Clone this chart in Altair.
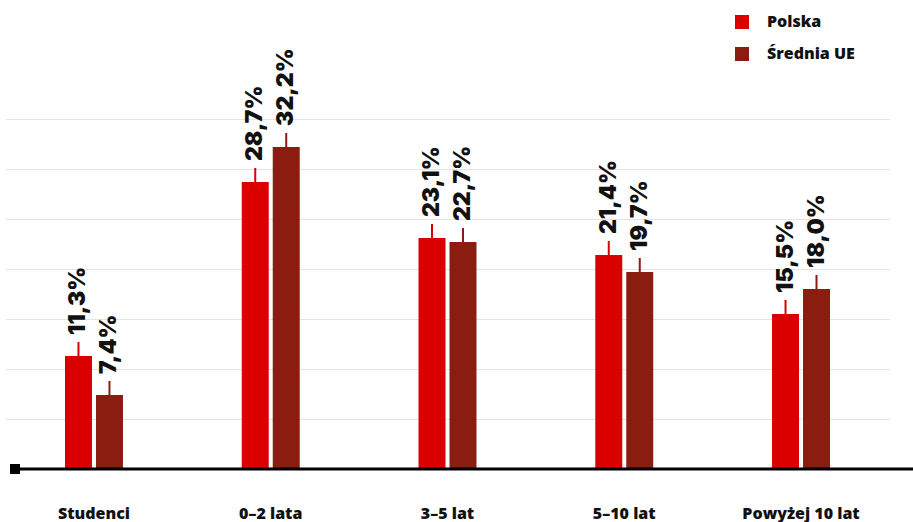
import altair as alt
import pandas as pd

# Share of respondents by seniority group
categories = ["Studenci", "0–2 lata", "3–5 lat", "5–10 lat", "Powyżej 10 lat"]
series_names = ["Polska", "Średnia UE"]
polska = [11.3, 28.7, 23.1, 21.4, 15.5]
srednia_ue = [7.4, 32.2, 22.7, 19.7, 18.0]
grid_values = [5, 10, 15, 20, 25, 30, 35]
colors = ["#DB0000", "#8A1C10"]

rows = []
for cat, p, u in zip(categories, polska, srednia_ue):
    rows.append({"kategoria": cat, "seria": series_names[0], "wartosc": p})
    rows.append({"kategoria": cat, "seria": series_names[1], "wartosc": u})
df = pd.DataFrame(rows)

x_enc = alt.X(
    "kategoria:N",
    sort=categories,
    scale=alt.Scale(domain=categories, range=[-4.4, 879.4], paddingInner=0.672, paddingOuter=0.336),
    axis=alt.Axis(
        title=None, domain=False, ticks=False, labelAngle=0,
        labelFont="Open Sans", labelFontWeight=800, labelFontSize=16,
        labelColor="#111111", labelPadding=49, labelBaseline="alphabetic",
    ),
)
x_off = alt.XOffset(
    "seria:N",
    scale=alt.Scale(domain=series_names, paddingInner=0.129, paddingOuter=0),
)
y_scale = alt.Scale(domain=[0, 46.9], nice=False, zero=True)
color_enc = alt.Color(
    "seria:N",
    scale=alt.Scale(domain=series_names, range=colors),
    legend=alt.Legend(
        title=None, orient="none", legendX=724, legendY=14,
        symbolType="square", symbolSize=196, symbolStrokeWidth=0, symbolOpacity=1,
        labelFont="Open Sans", labelFontWeight=800, labelFontSize=16,
        labelColor="#111111", labelOffset=17, rowPadding=16, padding=0,
    ),
)

base = alt.Chart(df)

bars = base.mark_bar(stroke=None).encode(
    x=x_enc,
    xOffset=x_off,
    y=alt.Y(
        "wartosc:Q", scale=y_scale,
        axis=alt.Axis(
            title=None, values=grid_values, labels=False, ticks=False, domain=False,
            grid=True, gridColor="#E4E4E4", gridWidth=1,
        ),
    ),
    color=color_enc,
)

whiskers = base.transform_calculate(
    top="datum.wartosc + 1.4"
).mark_rule(strokeWidth=2).encode(
    x=alt.X("kategoria:N", sort=categories),
    xOffset=x_off,
    y=alt.Y("wartosc:Q"),
    y2="top:Q",
    color=alt.Color("seria:N", legend=None),
)

labels = base.transform_calculate(
    label_y="datum.wartosc + 2.1",
    txt="replace(format(datum.wartosc, '.1f'), '.', ',') + '%'",
).mark_text(
    angle=270, align="left", baseline="middle",
    font="Inter", fontWeight=900, fontSize=23, color="#111111",
).encode(
    x=alt.X("kategoria:N", sort=categories),
    xOffset=x_off,
    y=alt.Y("label_y:Q"),
    text="txt:N",
)

baseline = alt.Chart(pd.DataFrame({"v": [0]})).mark_rule(
    color="#000000", strokeWidth=3
).encode(y=alt.Y("v:Q"))

marker = alt.Chart(pd.DataFrame({"v": [0]})).mark_square(
    size=100, color="#000000", opacity=1
).encode(x=alt.value(5), y=alt.Y("v:Q"))

chart = alt.layer(bars, whiskers, labels, baseline, marker).resolve_scale(
    y="shared"
).properties(
    width=903,
    height=469,
    padding={"left": 10, "top": 0, "right": 0, "bottom": 53},
    autosize=alt.AutoSizeParams(type="none"),
    background="#FFFFFF",
).configure_view(stroke=None)

chart.save("out.html", embed_options={"renderer": "svg", "actions": False})
